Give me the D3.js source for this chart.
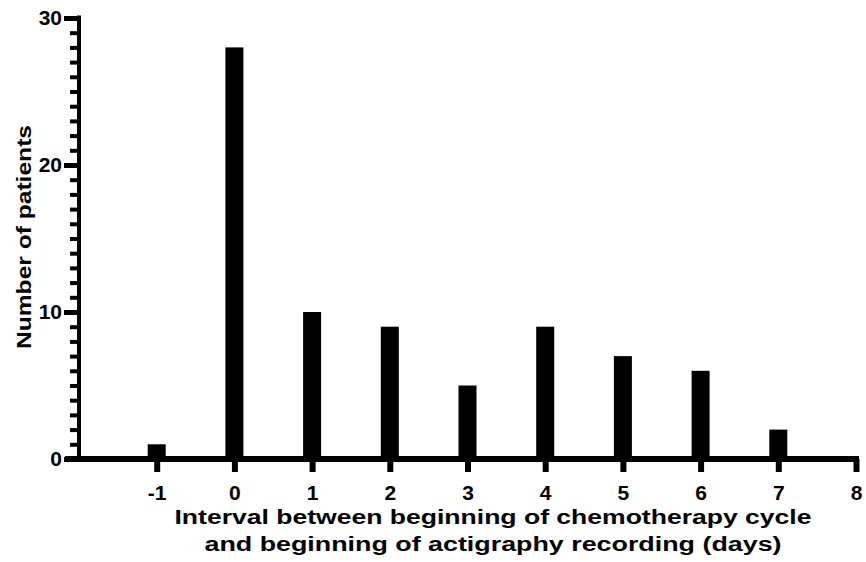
<!DOCTYPE html>
<html>
<head>
<meta charset="utf-8">
<script src="https://cdn.jsdelivr.net/npm/d3@7"></script>
<style>
  html, body { margin: 0; padding: 0; background: #fff; }
  svg { display: block; }
  text { font-family: "Liberation Sans", Arial, sans-serif; font-weight: bold; fill: #000; }
</style>
</head>
<body>
<svg id="chart" width="866" height="562"></svg>
<script>
const categories = [-1, 0, 1, 2, 3, 4, 5, 6, 7];
const patients = [1, 28, 10, 9, 5, 9, 7, 6, 2];
const xTickValues = [-1, 0, 1, 2, 3, 4, 5, 6, 7, 8];
const yTickValues = [0, 10, 20, 30];
const xTitleLines = ["Interval between beginning of chemotherapy cycle", "and beginning of actigraphy recording (days)"];
const yTitle = "Number of patients";

const svg = d3.select("#chart");
const x = d3.scaleLinear().domain([-2, 8]).range([79, 856]);
const y = d3.scaleLinear().domain([0, 30]).range([459, 18]);
const barW = 18;

// bars
svg.append("g").selectAll("rect").data(categories).join("rect")
  .attr("x", (d) => x(d) - barW / 2)
  .attr("width", barW)
  .attr("y", (d, i) => y(patients[i]))
  .attr("height", (d, i) => y(0) - y(patients[i]))
  .attr("fill", "#000");

// y minor ticks
const yMinor = svg.append("g").attr("transform", `translate(${x(-2)},0)`)
  .call(d3.axisLeft(y).tickValues(d3.range(0, 31, 1)).tickSize(9).tickSizeOuter(0).tickFormat(""));
yMinor.select(".domain").remove();
yMinor.selectAll(".tick line").attr("stroke", "#000").attr("stroke-width", 4);

// y major axis
const yAx = svg.append("g").attr("transform", `translate(${x(-2)},0)`)
  .call(d3.axisLeft(y).tickValues(yTickValues).tickSize(15).tickSizeOuter(0).tickPadding(2));
yAx.select(".domain").attr("stroke", "#000").attr("stroke-width", 4)
  .attr("d", `M0,${y(30) - 2.5}V${y(0)}`);
yAx.selectAll(".tick line").attr("stroke", "#000").attr("stroke-width", 5);
yAx.selectAll(".tick text").style("font-size", "21px").style("font-family", "'Liberation Sans', Arial, sans-serif").style("font-weight", "bold");

// x axis
const xAx = svg.append("g").attr("transform", `translate(0,${y(0)})`)
  .call(d3.axisBottom(x).tickValues(xTickValues).tickSize(13).tickSizeOuter(0).tickPadding(13));
xAx.select(".domain").attr("stroke", "#000").attr("stroke-width", 6)
  .attr("d", `M65,0H${x(8) + 3}`);
xAx.selectAll(".tick line").attr("stroke", "#000").attr("stroke-width", 6);
xAx.selectAll(".tick text").style("font-size", "21px").style("font-family", "'Liberation Sans', Arial, sans-serif").style("font-weight", "bold")
  .text((d) => d < 0 ? "-" + Math.abs(d) : d);

// x title
const xLens = [637, 577];
const xBase = [524, 551];
xTitleLines.forEach((t, i) => {
  svg.append("text")
    .attr("x", 493).attr("y", xBase[i])
    .attr("text-anchor", "middle")
    .attr("textLength", xLens[i]).attr("lengthAdjust", "spacingAndGlyphs")
    .style("font-size", "20px")
    .text(t);
});

// y title
svg.append("text")
  .attr("transform", "translate(31,237) rotate(-90)")
  .attr("text-anchor", "middle")
  .attr("textLength", 224).attr("lengthAdjust", "spacingAndGlyphs")
  .style("font-size", "20px")
  .text(yTitle);
</script>
</body>
</html>
